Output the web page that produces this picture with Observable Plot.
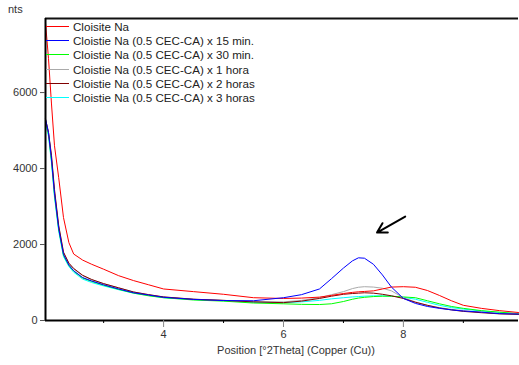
<!DOCTYPE html>
<html>
<head>
<meta charset="utf-8">
<script src="https://cdn.jsdelivr.net/npm/d3@7"></script>
<script src="https://cdn.jsdelivr.net/npm/@observablehq/plot@0.6"></script>
<style>
  body { margin: 0; background: #fff; }
  #wrap { position: relative; width: 519px; height: 365px; font-family: "Liberation Sans", Arial, sans-serif; }
  #ylab { position: absolute; left: 8px; top: 3px; font-size: 11px; color: #333; }
  #legend { position: absolute; left: 0; top: 0; pointer-events: none; }
</style>
</head>
<body>
<div id="wrap"><div id="ylab">nts</div></div>
<script>
const seriesNames = [
  "Cloisite Na",
  "Cloistie Na (0.5 CEC-CA) x 15 min.",
  "Cloistie Na (0.5 CEC-CA) x 30 min.",
  "Cloistie Na (0.5 CEC-CA) x 1 hora",
  "Cloistie Na (0.5 CEC-CA) x 2 horas",
  "Cloistie Na (0.5 CEC-CA) x 3 horas"
];
const seriesColors = ["#ff0000", "#0000ff", "#00ff00", "#aaaaaa", "#800000", "#00ffff"];

const xs = [2.03, 2.08, 2.13, 2.18, 2.25, 2.33, 2.42, 2.5, 2.65, 2.8, 3.0, 3.25, 3.5, 3.75, 4.0, 4.5, 5.0, 5.5,
            6.0, 6.3, 6.6, 6.8, 7.0, 7.15, 7.25, 7.35, 7.5, 7.65, 7.8, 8.0, 8.2, 8.4, 8.6, 8.8, 9.0, 9.3, 9.6, 9.92];

const red = [7840, 6900, 5700, 4600, 3760, 2710, 2050, 1750, 1590, 1480, 1350, 1180, 1050, 940, 830, 760, 690, 600,
             580, 590, 615, 660, 710, 740, 755, 765, 780, 830, 880, 890, 875, 790, 660, 520, 400, 320, 260, 210];
const blue = [5300, 4950, 4250, 3350, 2420, 1740, 1460, 1310, 1130, 1040, 940, 830, 730, 670, 610, 555, 525, 520,
              600, 680, 830, 1100, 1380, 1570, 1650, 1640, 1480, 1200, 880, 580, 450, 370, 320, 280, 250, 220, 180, 170];
const green = [5250, 4900, 4200, 3300, 2400, 1720, 1450, 1300, 1120, 1030, 930, 820, 720, 650, 600, 540, 510, 460,
               440, 425, 420, 440, 500, 560, 590, 610, 630, 640, 640, 620, 600, 520, 440, 370, 320, 260, 220, 180];
const grey = [5300, 4950, 4300, 3400, 2480, 1790, 1500, 1360, 1180, 1070, 970, 860, 750, 680, 620, 560, 530, 500,
              490, 530, 600, 680, 760, 840, 875, 890, 880, 850, 780, 600, 490, 400, 340, 295, 260, 220, 185, 170];
const darkred = [5300, 4950, 4350, 3450, 2500, 1800, 1510, 1370, 1190, 1080, 970, 860, 750, 680, 620, 560, 530, 490,
                 470, 510, 580, 640, 690, 710, 720, 730, 720, 690, 650, 580, 480, 400, 330, 280, 240, 205, 175, 160];
const cyan = [5200, 4850, 4150, 3250, 2350, 1680, 1420, 1270, 1090, 1000, 910, 810, 720, 660, 600, 550, 520, 480,
              470, 490, 530, 570, 600, 620, 630, 640, 650, 650, 640, 610, 560, 480, 400, 340, 300, 250, 210, 175];

const seriesValues = [red, blue, green, grey, darkred, cyan];

const xDomain = [2.03, 9.92];
const yDomain = [0, 7950];
const yTicks = [0, 2000, 4000, 6000];
const xMajor = [4, 6, 8];
const xMinor = [3, 5, 7, 9];
const xLabel = "Position [°2Theta] (Copper (Cu))";
const arrowTail = [8.03, 2737];
const arrowHead = [7.56, 2316];

const drawOrder = [5, 2, 3, 4, 0, 1];
const lineMarks = drawOrder.map(i =>
  Plot.line(xs.map((x, j) => ({x, y: seriesValues[i][j]})), {x: "x", y: "y", stroke: seriesColors[i], strokeWidth: 1})
);

const chart = Plot.plot({
  width: 519,
  height: 365,
  marginLeft: 45,
  marginRight: 1,
  marginTop: 18,
  marginBottom: 45,
  style: {fontFamily: "'Liberation Sans', Arial, sans-serif", fontSize: "11px", color: "#333", background: "transparent"},
  x: {domain: xDomain},
  y: {domain: yDomain},
  marks: [
    ...lineMarks,
    Plot.ruleY([yDomain[0]], {stroke: "#000", strokeWidth: 2}),
    Plot.ruleY([yDomain[1]], {stroke: "#111", strokeWidth: 2}),
    Plot.ruleX([xDomain[0]], {stroke: "#000", strokeWidth: 2}),
    Plot.axisY({ticks: yTicks, tickSize: 5, tickPadding: 3, label: null, stroke: "#555", fontSize: 11, tickFormat: d => String(d)}),
    Plot.axisX({ticks: xMajor, tickSize: 7, tickPadding: 3, label: null, stroke: "#888", fontSize: 11, tickFormat: d => String(d)}),
    Plot.axisX({ticks: xMinor, tickSize: 3, label: null, stroke: "#000", tickFormat: () => ""}),
    Plot.text([xLabel], {frameAnchor: "bottom", dy: 33, dx: 14, text: d => d, fontSize: 11, fill: "#333"}),
    Plot.arrow([{t: arrowTail, h: arrowHead}], {
      x1: d => d.t[0], y1: d => d.t[1], x2: d => d.h[0], y2: d => d.h[1],
      stroke: "#000", strokeWidth: 2, headLength: 13, bend: 0
    })
  ]
});
const wrap = document.getElementById("wrap");
wrap.insertBefore(chart, wrap.firstChild);

// legend drawn in SVG
const ns = "http://www.w3.org/2000/svg";
const lg = document.createElementNS(ns, "svg");
lg.setAttribute("id", "legend");
lg.setAttribute("width", 519);
lg.setAttribute("height", 120);
seriesNames.forEach((name, i) => {
  const y = Math.round(25.7 + i * 14.3) + 0.5;
  const ln = document.createElementNS(ns, "line");
  ln.setAttribute("x1", 46); ln.setAttribute("x2", 69);
  ln.setAttribute("y1", y); ln.setAttribute("y2", y);
  ln.setAttribute("stroke", seriesColors[i]); ln.setAttribute("stroke-width", 1);
  lg.appendChild(ln);
  const tx = document.createElementNS(ns, "text");
  tx.setAttribute("x", 73); tx.setAttribute("y", y);
  tx.setAttribute("dy", "0.35em");
  tx.setAttribute("font-size", "11.6px");
  tx.setAttribute("font-family", "'Liberation Sans', Arial, sans-serif");
  tx.setAttribute("fill", "#222");
  tx.textContent = name;
  lg.appendChild(tx);
});
wrap.appendChild(lg);
</script>
</body>
</html>
